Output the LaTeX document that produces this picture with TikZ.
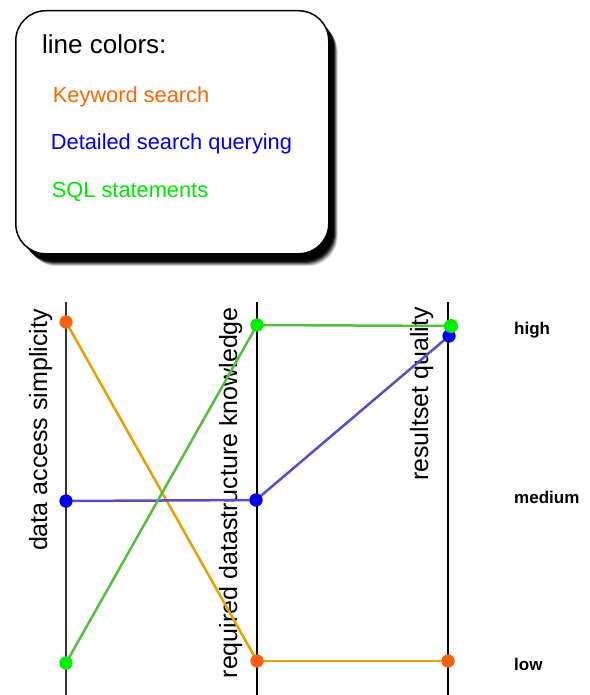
\documentclass[tikz,border=0pt]{standalone}
\usepackage{fontspec}
\setmainfont{Liberation Sans}

\definecolor{kwdot}{RGB}{255,96,16}
\definecolor{kwline}{RGB}{232,160,0}
\definecolor{dsdot}{RGB}{0,0,238}
\definecolor{dsline}{RGB}{84,80,196}
\definecolor{sqldot}{RGB}{0,238,0}
\definecolor{sqlline}{RGB}{84,190,64}
\definecolor{kwtext}{RGB}{255,102,0}
\definecolor{dstext}{RGB}{0,0,230}
\definecolor{sqltext}{RGB}{0,230,0}

\tikzset{
  axisline/.style={line width=2pt},
  axislabel/.style={rotate=90, anchor=base east, inner sep=0pt, font=\fontsize{25}{25}\selectfont},
  levellabel/.style={anchor=west, inner sep=0pt, font=\bfseries\fontsize{17}{17}\selectfont},
  legendtext/.style={anchor=base west, inner sep=0pt, font=\fontsize{21.8}{22}\selectfont},
  datadot/.style={circle, inner sep=0pt, minimum size=13pt},
  dataline/.style={line width=2.5pt, shorten <=-6pt, shorten >=-6pt}
}

\begin{document}
\begin{tikzpicture}[x=1pt, y=-1pt]
  \useasboundingbox (0,0) rectangle (589,695);

  % legend box with soft drop shadow
  \foreach \o/\op in {12/0.15, 11/0.25, 10/0.35, 9/0.5, 8/0.7, 7/0.9} {
    \fill[black, opacity=\op, rounded corners=30pt] (15+\o,10+\o) rectangle (328+\o*0.8,253+\o*1.1);
  }
  \node[draw, line width=1.5pt, fill=white, rounded corners=30pt, minimum width=313pt, minimum height=243pt, anchor=north west] (legend) at (15,10) {};
  \node[legendtext, font=\fontsize{26}{26}\selectfont] (title) at (42,54) {line colors:};
  \node[legendtext, text=kwtext] (kwlabel) at (52.7,103) {Keyword search};
  \node[legendtext, text=dstext] (dslabel) at (50.7,149.5) {Detailed search querying};
  \node[legendtext, text=sqltext] (sqllabel) at (51.7,197) {SQL statements};

  % axes
  \coordinate (a1top) at (66,302);  \coordinate (a1bot) at (66,695);
  \coordinate (a2top) at (257,302); \coordinate (a2bot) at (257,695);
  \coordinate (a3top) at (448,302); \coordinate (a3bot) at (448,695);
  \draw[axisline, black!80] (a1top) -- (a1bot);
  \draw[axisline] (a2top) -- (a2bot);
  \draw[axisline] (a3top) -- (a3bot);

  \node[axislabel] (lab1) at (47,309) {data access simplicity};
  \node[axislabel] (lab2) at (237,307) {required datastructure knowledge};
  \node[axislabel] (lab3) at (428,307) {resultset quality};

  % level labels
  \node[levellabel] (high) at (514,330) {high};
  \node[levellabel] (medium) at (514,497) {medium};
  \node[levellabel] (low) at (514,664) {low};

  % data points
  \node[datadot, fill=kwdot] (k1) at (66,322) {};
  \node[datadot, fill=kwdot] (k2) at (257,661) {};
  \node[datadot, fill=kwdot] (k3) at (448,661) {};
  \node[datadot, fill=dsdot] (d1) at (66,501) {};
  \node[datadot, fill=dsdot] (d2) at (256,500) {};
  \node[datadot, fill=dsdot] (d3) at (449,336) {};
  \node[datadot, fill=sqldot] (s1) at (66,663) {};
  \node[datadot, fill=sqldot] (s2) at (257,325) {};
  \node[datadot, fill=sqldot] (s3) at (451,326) {};

  % connecting lines
  \draw[dataline, kwline] (k1) -- (k2);
  \draw[dataline, kwline] (k2) -- (k3);
  \draw[dataline, dsline] (d1) -- (d2);
  \draw[dataline, dsline] (d2) -- (d3);
  \draw[dataline, sqlline] (s1) -- (s2);
  \draw[dataline, sqlline] (s2) -- (s3);

  % dots redrawn on top of the lines
  \foreach \n/\c in {k1/kwdot,k2/kwdot,k3/kwdot,d1/dsdot,d2/dsdot,d3/dsdot,s1/sqldot,s2/sqldot} {
    \fill[\c] (\n.center) circle (6.5pt);
  }
  \fill[sqldot] (s3.center) circle (7pt);
\end{tikzpicture}
\end{document}
